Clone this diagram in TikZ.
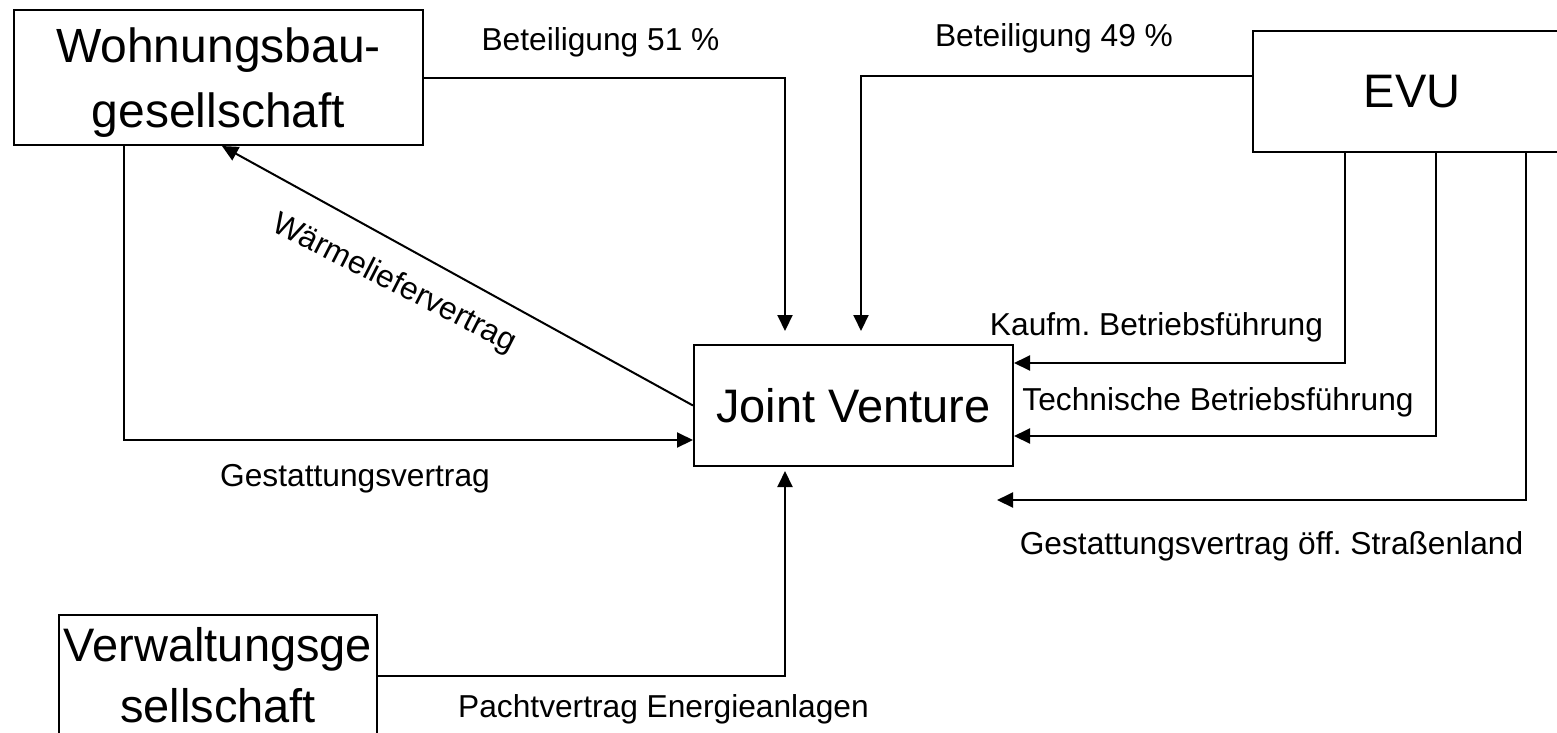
\documentclass[tikz,border=0pt]{standalone}
\usepackage{fontspec}
\setmainfont{Liberation Sans}
\usetikzlibrary{arrows.meta}
\frenchspacing

\begin{document}
\begin{tikzpicture}[x=1pt,y=-1pt]
    \tikzstyle{every node}=[font=\fontsize{31.7}{38}\selectfont]
    \tikzstyle{party}=[draw,line width=2pt,inner sep=0pt,align=center,
        font=\fontsize{47}{61}\selectfont]
    \tikzstyle{link}=[line width=2pt]
    \tikzstyle{arr}=[link,-{Triangle[length=16pt,width=15pt]}]
    \useasboundingbox (0,0) rectangle (1557,732);

    \node[party,minimum width=409pt,minimum height=135pt,text depth=0pt,
    font=\fontsize{48}{65}\selectfont] (wohn) at (218.5,77.5)
    {Wohnungsbau-\\gesellschaft};
    \node[party,minimum width=318pt,minimum height=121pt] (evu) at (1412,91.5)
    {EVU};
    \node[party,minimum width=319pt,minimum height=121pt] (jv) at (853.5,405.5)
    {Joint Venture};
    \node[party,minimum width=318pt,minimum height=121pt] (verw) at (218,675.5)
    {Verwaltungsge\\sellschaft};
    \coordinate (strasse) at (997,500);

    \draw[arr,shorten >=13pt] (wohn.east) -| ([xshift=-68.5pt]jv.north);
    \draw[arr,shorten >=13pt] ([yshift=15.5pt]evu.west) -| ([xshift=7.5pt]jv.north);
    \draw[arr] ([xshift=-67pt]evu.south) |- ([yshift=42.5pt]jv.east);
    \draw[arr] ([xshift=24pt]evu.south) |- ([yshift=-30.5pt]jv.east);
    \draw[arr] ([xshift=114pt]evu.south) |- (strasse);
    \draw[arr] ([xshift=-94.5pt]wohn.south) |- ([yshift=-34.5pt]jv.west);
    \draw[arr] (jv.west) -- ([xshift=3.5pt]wohn.south);
    \draw[arr,shorten >=4pt] (verw.east) -| ([xshift=-68.5pt]jv.south);

    \node[anchor=base] (bet51) at (600.5,50) {Beteiligung 51 \%};
    \node[anchor=base] (bet49) at (1054,46) {Beteiligung 49 \%};
    \node[anchor=base] (kaufm) at (1156.5,335) {Kaufm. Betriebsführung};
    \node[anchor=base] (techn) at (1218,410) {Technische Betriebsführung};
    \node[anchor=base] (gestoeff) at (1271.5,554)
    {Gestattungsvertrag öff. Straßenland};
    \node[anchor=base] (gest) at (355,486) {Gestattungsvertrag};
    \node[anchor=base] (pacht) at (663.5,717) {Pachtvertrag Energieanlagen};
    \node[rotate=-27] (waerme) at (394,284) {Wärmeliefervertrag};

\end{tikzpicture}
\end{document}
